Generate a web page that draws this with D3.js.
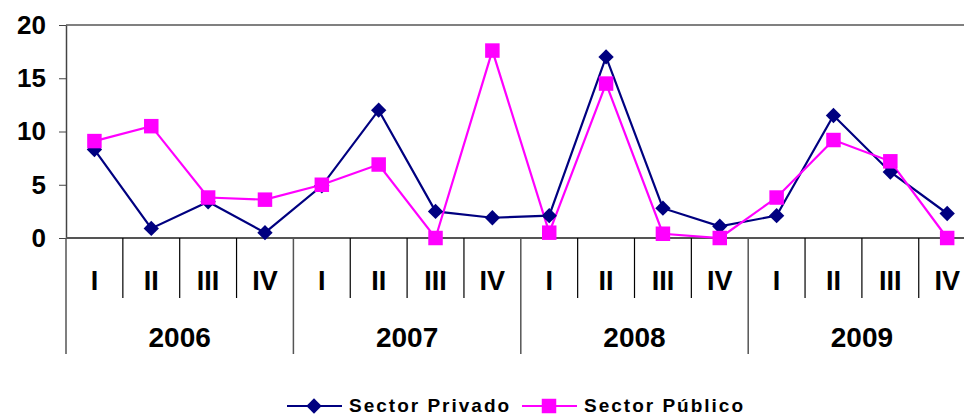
<!DOCTYPE html>
<html lang="en">
<head>
  <meta charset="UTF-8">
  <title>Sector Privado / Sector Público</title>
  <style>
    body { margin: 0; background: #fff; }
    text { font-family: "Liberation Sans", Arial, sans-serif; font-weight: bold; fill: #000; }
  </style>
</head>
<body>
<div id="output"></div>
<script src="https://d3js.org/d3.v7.min.js"></script>
<script type="text/javascript">
  const years = ["2006", "2007", "2008", "2009"];
  const quarters = ["I", "II", "III", "IV"];
  const yTicks = [0, 5, 10, 15, 20];
  const privado = [8.3, 0.9, 3.4, 0.5, 4.9, 12.0, 2.5, 1.9, 2.1, 17.0, 2.8, 1.1, 2.1, 11.5, 6.2, 2.3];
  const publico = [9.1, 10.5, 3.8, 3.6, 5.0, 6.9, 0.0, 17.6, 0.5, 14.5, 0.4, 0.0, 3.8, 9.2, 7.2, 0.0];

  const W = 964, H = 416;
  const plotLeft = 66, plotRight = 975.6, plotTop = 25, zeroY = 238;

  const cats = d3.range(years.length * quarters.length);
  const x = d3.scaleBand().domain(cats).range([plotLeft, plotRight]);
  const y = d3.scaleLinear().domain([0, 20]).range([zeroY, plotTop]);

  const svg = d3.select("#output").append("svg")
    .attr("width", W).attr("height", H);

  // plot border (top, right) in grey
  svg.append("path")
    .attr("d", `M${plotLeft},${plotTop}H${plotRight}V${zeroY}`)
    .style("fill", "none").style("stroke", "#808080").style("stroke-width", 2);

  // y axis
  const yAxis = svg.append("g")
    .attr("transform", `translate(${plotLeft},0)`)
    .call(d3.axisLeft(y).tickValues(yTicks).tickSize(7).tickPadding(13).tickSizeOuter(0));
  yAxis.select(".domain").style("stroke", "#444").style("stroke-width", 1.5);
  yAxis.selectAll(".tick line").style("stroke", "#444");
  yAxis.selectAll("text").style("font-size", "26px").attr("font-family", null);

  // category axis: zero line + separators
  svg.append("line")
    .attr("x1", plotLeft).attr("x2", plotRight).attr("y1", zeroY).attr("y2", zeroY)
    .style("stroke", "#555").style("stroke-width", 2);
  svg.append("line")
    .attr("x1", plotLeft).attr("x2", plotLeft).attr("y1", zeroY).attr("y2", 354)
    .style("stroke", "#555").style("stroke-width", 1.5);

  cats.forEach(function (i) {
    const bx = x(i) + x.bandwidth();
    const yearEnd = (i + 1) % quarters.length === 0;
    svg.append("line")
      .attr("x1", bx).attr("x2", bx).attr("y1", zeroY).attr("y2", yearEnd ? 354 : 298)
      .style("stroke", yearEnd ? "#555" : "#000").style("stroke-width", yearEnd ? 1.5 : 1.2);
    svg.append("text")
      .attr("x", x(i) + x.bandwidth() / 2).attr("y", 290)
      .attr("text-anchor", "middle")
      .style("font-size", "27px")
      .text(quarters[i % quarters.length]);
  });

  years.forEach(function (yr, j) {
    const x0 = x(j * quarters.length);
    const x1 = x(j * quarters.length + quarters.length - 1) + x.bandwidth();
    svg.append("text")
      .attr("x", (x0 + x1) / 2).attr("y", 347)
      .attr("text-anchor", "middle")
      .style("font-size", "28px")
      .text(yr);
  });

  const cx = i => x(i) + x.bandwidth() / 2;
  const line = d3.line().x((d, i) => cx(i)).y(d => y(d));

  const series = [
    { name: "Sector Privado", values: privado, color: "#000080", shape: d3.symbolDiamond2 },
    { name: "Sector Público", values: publico, color: "#FF00FF", shape: d3.symbolSquare }
  ];
  const diamond = d3.symbol().type(d3.symbolDiamond2).size(150);
  const square = d3.symbol().type(d3.symbolSquare).size(210);

  series.forEach(function (s) {
    svg.append("path")
      .attr("d", line(s.values))
      .style("fill", "none").style("stroke", s.color).style("stroke-width", 2.2);
  });
  series.forEach(function (s) {
    const sym = s.shape === d3.symbolSquare ? square : diamond;
    svg.selectAll(null).data(s.values).enter().append("path")
      .attr("d", sym)
      .attr("transform", (d, i) => `translate(${cx(i)},${y(d)})`)
      .style("fill", s.color);
  });

  // legend
  const legendPos = [287, 522];
  series.forEach(function (s, k) {
    const lx = legendPos[k], ly = 406;
    const g = svg.append("g").attr("transform", `translate(${lx},${ly})`);
    g.append("line").attr("x1", 0).attr("x2", 55).attr("y1", 0).attr("y2", 0)
      .style("stroke", s.color).style("stroke-width", 2.2);
    g.append("path")
      .attr("d", s.shape === d3.symbolSquare ? square : diamond)
      .attr("transform", "translate(27,0)")
      .style("fill", s.color);
    g.append("text")
      .attr("x", 62).attr("y", 6)
      .style("font-size", "19px").style("letter-spacing", "2px")
      .text(s.name);
  });
</script>
</body>
</html>
